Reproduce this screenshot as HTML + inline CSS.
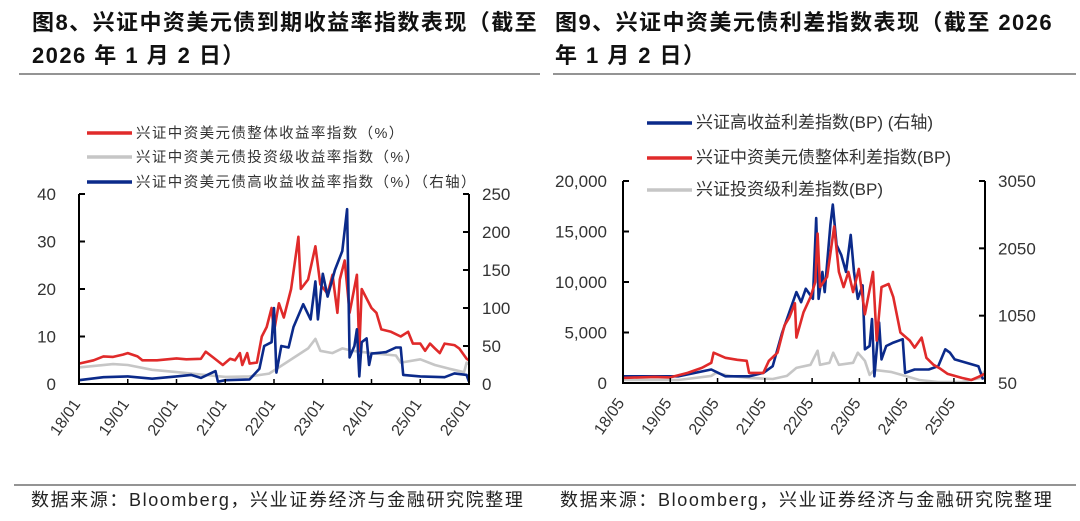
<!DOCTYPE html>
<html><head><meta charset="utf-8">
<style>
body{margin:0;background:#fff;width:1080px;height:521px;overflow:hidden;}
svg{display:block;font-family:"Liberation Sans","Noto Sans CJK SC",sans-serif;}
</style></head>
<body>
<svg id="root" width="1080" height="521" viewBox="0 0 1080 521">
<g font-weight="bold" font-size="22" fill="#111" letter-spacing="1.45">
<text x="32" y="30">图8、兴证中资美元债到期收益率指数表现（截至</text>
<text x="32" y="63">2026 年 1 月 2 日）</text>
</g>
<g font-weight="bold" font-size="22" fill="#111" letter-spacing="1.45">
<text x="555" y="30">图9、兴证中资美元债利差指数表现（截至 2026</text>
<text x="555" y="63">年 1 月 2 日）</text>
</g>
<line x1="19" y1="74" x2="540" y2="74" stroke="#555" stroke-width="1.2"/>
<line x1="553" y1="74" x2="1076" y2="74" stroke="#555" stroke-width="1.2"/>
<line x1="14" y1="485" x2="1076" y2="485" stroke="#555" stroke-width="1.2"/>
<text x="31" y="506" font-size="18" letter-spacing="1.6" fill="#222">数据来源：Bloomberg，兴业证券经济与金融研究院整理</text>
<text x="560" y="506" font-size="18" letter-spacing="1.6" fill="#222">数据来源：Bloomberg，兴业证券经济与金融研究院整理</text>
<g id="c1"></g>
<g id="c2"></g>
</svg>
<script>
// ===== Chart 1 data (yield %) =====
const c1XTicks = ["18/01","19/01","20/01","21/01","22/01","23/01","24/01","25/01","26/01"];
const c1LeftTicks = [0,10,20,30,40];
const c1RightTicks = [0,50,100,150,200,250];
const c1TotalDates = [2018.0,2018.3,2018.5,2018.7,2018.9,2019.0,2019.2,2019.3,2019.6,2020.0,2020.2,2020.5,2020.6,2020.75,2020.95,2021.1,2021.2,2021.3,2021.35,2021.45,2021.5,2021.65,2021.75,2021.85,2021.95,2022.0,2022.1,2022.2,2022.35,2022.5,2022.55,2022.7,2022.85,2022.95,2023.1,2023.2,2023.3,2023.35,2023.45,2023.55,2023.7,2023.75,2023.8,2023.9,2024.0,2024.1,2024.2,2024.4,2024.6,2024.75,2024.85,2025.0,2025.1,2025.2,2025.3,2025.4,2025.5,2025.7,2025.8,2025.95,2026.0];
const c1TotalVals = [4.3,5.0,5.8,5.7,6.2,6.5,5.8,5.0,5.0,5.4,5.2,5.3,6.8,5.6,4.0,5.3,5.0,6.5,4.0,6.5,4.3,4.5,10,12,16,11,17,14,20,31,20,22,29,21,19,23,15,22,26,15,23,7,20,18,16,15,11.5,11,10,11,8.5,8.5,7,8.5,7.5,6.5,8.5,8.2,7.5,5.3,5.0];
const c1IgDates = [2018.0,2018.7,2019.0,2019.5,2020.0,2020.5,2021.0,2021.5,2021.9,2022.1,2022.4,2022.7,2022.85,2022.95,2023.2,2023.4,2023.6,2024.0,2024.5,2024.6,2025.0,2025.3,2025.6,2025.9,2025.95,2026.0];
const c1IgVals = [3.5,4.2,4.0,3.0,2.5,2.0,1.5,1.6,2.2,3.5,5.5,7.5,9.5,7,6.5,7.5,7,6.5,6.0,4.5,5.2,4,3.2,2.5,4.5,4.2];
const c1HyDates = [2018.0,2018.5,2019.0,2019.5,2020.0,2020.3,2020.5,2020.8,2020.85,2021.0,2021.5,2021.7,2021.8,2021.95,2022.0,2022.05,2022.15,2022.3,2022.4,2022.6,2022.75,2022.85,2022.9,2023.0,2023.1,2023.25,2023.4,2023.5,2023.55,2023.65,2023.7,2023.75,2023.8,2023.9,2023.95,2024.0,2024.3,2024.5,2024.6,2024.65,2025.0,2025.5,2025.7,2025.95,2026.0];
const c1HyVals = [5,9,10,7,10,12,8,17,3,5,6,20,50,55,100,15,50,48,75,105,85,135,85,145,115,150,175,230,35,50,72,10,55,60,25,40,42,48,48,12,10,9,14,12,3];

// ===== Chart 2 data (spread BP) =====
const c2XTicks = ["18/05","19/05","20/05","21/05","22/05","23/05","24/05","25/05"];
const c2LeftTicks = [0,5000,10000,15000,20000];
const c2LeftLabels = ["0","5,000","10,000","15,000","20,000"];
const c2RightTicks = [50,1050,2050,3050];
const c2TotalDates = [2018.33,2019.0,2019.33,2019.7,2020.0,2020.2,2020.25,2020.5,2020.75,2020.95,2021.0,2021.3,2021.42,2021.6,2021.75,2021.85,2021.97,2022.0,2022.15,2022.3,2022.4,2022.45,2022.5,2022.65,2022.8,2022.9,2023.0,2023.1,2023.2,2023.32,2023.45,2023.62,2023.7,2023.8,2023.95,2024.05,2024.2,2024.4,2024.5,2024.65,2024.75,2024.9,2025.05,2025.2,2025.5,2025.7,2025.85,2025.98];
const c2TotalVals = [500,600,550,1000,1500,2000,3000,2500,2300,2200,1000,1000,2200,3000,5700,6500,7900,4500,7000,8500,10000,14800,9500,10500,15500,11000,9500,11000,9000,11300,6800,11000,4200,9500,9800,8500,5000,4200,3500,4500,2500,1800,1400,900,500,300,600,900];
const c2IgDates = [2018.33,2019.5,2020.2,2020.3,2020.6,2021.0,2021.5,2021.8,2022.0,2022.3,2022.45,2022.5,2022.7,2022.78,2022.9,2023.2,2023.3,2023.45,2023.55,2023.65,2024.0,2024.3,2024.6,2025.0,2025.5,2025.9,2025.98];
const c2IgVals = [300,300,700,1000,700,500,400,700,1500,1800,3200,1800,2000,3000,1800,2000,3000,2200,800,1300,1100,700,300,100,100,500,1200];
const c2HyDates = [2018.33,2019.0,2019.5,2020.2,2020.5,2021.0,2021.3,2021.5,2021.7,2021.85,2022.0,2022.1,2022.2,2022.35,2022.42,2022.47,2022.55,2022.6,2022.72,2022.77,2022.85,2022.95,2023.05,2023.15,2023.22,2023.3,2023.4,2023.45,2023.55,2023.6,2023.65,2023.75,2023.8,2023.9,2024.05,2024.25,2024.3,2024.5,2024.8,2025.0,2025.15,2025.25,2025.35,2025.85,2025.95];
const c2HyVals = [150,150,150,250,150,150,200,300,800,1100,1400,1250,1450,1300,2500,1300,1700,1400,2400,2700,2100,1950,1700,2250,1700,1300,1500,550,600,1000,150,950,400,600,650,700,200,250,250,300,550,500,400,300,100];

const NS = "http://www.w3.org/2000/svg";
function mk(tag, attrs, parent){const e=document.createElementNS(NS,tag);for(const k in attrs)e.setAttribute(k,attrs[k]);parent.appendChild(e);return e;}

function drawChart(g, cfg){
  const {x0,x1,yTop,yBot,t0,t1,lMin,lMax,rMin,rMax} = cfg;
  const xs = t => x0 + (t - t0) / (t1 - t0) * (x1 - x0);
  const yl = v => yBot - (v - lMin) / (lMax - lMin) * (yBot - yTop);
  const yr = v => yBot - (v - rMin) / (rMax - rMin) * (yBot - yTop);
  cfg.series.forEach(s => {
    const f = s.axis === "right" ? yr : yl;
    const d = s.dates.map((t,i)=>(i?"L":"M")+xs(t).toFixed(1)+","+f(s.vals[i]).toFixed(1)).join("");
    const p = mk("path",{d:d,fill:"none",stroke:s.color,"stroke-width":2.6,"stroke-linejoin":"round"},g);
    
    
  });
  const ax = mk("path",{d:`M${x0},${yTop}V${yBot}H${x1}V${yTop}`,fill:"none",stroke:"#000","stroke-width":2},g);
  
  
  cfg.leftTicks.forEach((v,i)=>{
    const y = yl(v);
    const tk = mk("line",{x1:x0,x2:x0+6,y1:y,y2:y,stroke:"#000","stroke-width":2},g);
    
    
    const t = mk("text",{x:cfg.lLabelX,y:y+6,"text-anchor":"end","font-size":17,fill:"#333"},g);
    t.textContent = cfg.leftLabels ? cfg.leftLabels[i] : v;
    
    
  });
  cfg.rightTicks.forEach(v=>{
    const y = yr(v);
    const tk = mk("line",{x1:x1-6,x2:x1,y1:y,y2:y,stroke:"#000","stroke-width":2},g);
    
    
    const t = mk("text",{x:cfg.rLabelX,y:y+6,"font-size":17,fill:"#333"},g);
    t.textContent = v;
    
    
  });
  cfg.xTicks.forEach((lab,i)=>{
    const x = xs(cfg.xStart + i);
    const tk = mk("line",{x1:x,x2:x,y1:yBot,y2:yBot-5,stroke:"#000","stroke-width":1.5},g);
    
    
    const t = mk("text",{x:0,y:0,"text-anchor":"end","font-size":16,fill:"#333",transform:`translate(${x+2},${yBot+20}) rotate(-55)`},g);
    t.textContent = lab;
    
    
  });
  cfg.legend.forEach(L=>{
    const ln = mk("line",{x1:L.x,x2:L.x+L.w,y1:L.y,y2:L.y,stroke:L.color,"stroke-width":3.5},g);
    
    
    const t = mk("text",{x:L.x+L.w+4,y:L.y+5,"font-size":L.fs,"letter-spacing":L.ls,fill:"#333"},g);
    t.textContent = L.text;
    
    
  });
}

drawChart(document.getElementById("c1"),{
  x0:79,x1:469,yTop:194,yBot:384,t0:2018.0,t1:2026.0,xStart:2018.0,
  lMin:0,lMax:40,rMin:0,rMax:250,lLabelX:56,rLabelX:482,
  leftTicks:c1LeftTicks,rightTicks:c1RightTicks,xTicks:c1XTicks,
  series:[
    {name:"ig-yield-line",dates:c1IgDates,vals:c1IgVals,color:"#c6c6c6",axis:"left"},
    {name:"total-yield-line",dates:c1TotalDates,vals:c1TotalVals,color:"#e02a2a",axis:"left"},
    {name:"hy-yield-line",dates:c1HyDates,vals:c1HyVals,color:"#0b2a8a",axis:"right"}
  ],
  legend:[
    {x:87,w:45,y:133,color:"#e02a2a",fs:14.5,ls:1.4,text:"兴证中资美元债整体收益率指数（%）"},
    {x:87,w:45,y:157,color:"#c6c6c6",fs:14.5,ls:1.4,text:"兴证中资美元债投资级收益率指数（%）"},
    {x:87,w:45,y:182,color:"#0b2a8a",fs:14.5,ls:1.4,text:"兴证中资美元债高收益收益率指数（%）（右轴）"}
  ]
});
drawChart(document.getElementById("c2"),{
  x0:623,x1:985,yTop:181,yBot:383,t0:2018.333,t1:2025.99,xStart:2018.333,
  lMin:0,lMax:20000,rMin:50,rMax:3050,lLabelX:607,rLabelX:998,
  leftTicks:c2LeftTicks,leftLabels:c2LeftLabels,rightTicks:c2RightTicks,xTicks:c2XTicks,
  series:[
    {name:"ig-spread-line",dates:c2IgDates,vals:c2IgVals,color:"#c6c6c6",axis:"left"},
    {name:"hy-spread-line",dates:c2HyDates,vals:c2HyVals,color:"#0b2a8a",axis:"right"},
    {name:"total-spread-line",dates:c2TotalDates,vals:c2TotalVals,color:"#e02a2a",axis:"left"}
  ],
  legend:[
    {x:647,w:45,y:123,color:"#0b2a8a",fs:17,ls:0,text:"兴证高收益利差指数(BP) (右轴)"},
    {x:647,w:45,y:158,color:"#e02a2a",fs:17,ls:0,text:"兴证中资美元债整体利差指数(BP)"},
    {x:647,w:45,y:190,color:"#c6c6c6",fs:17,ls:0,text:"兴证投资级利差指数(BP)"}
  ]
});
</script>
</body></html>
